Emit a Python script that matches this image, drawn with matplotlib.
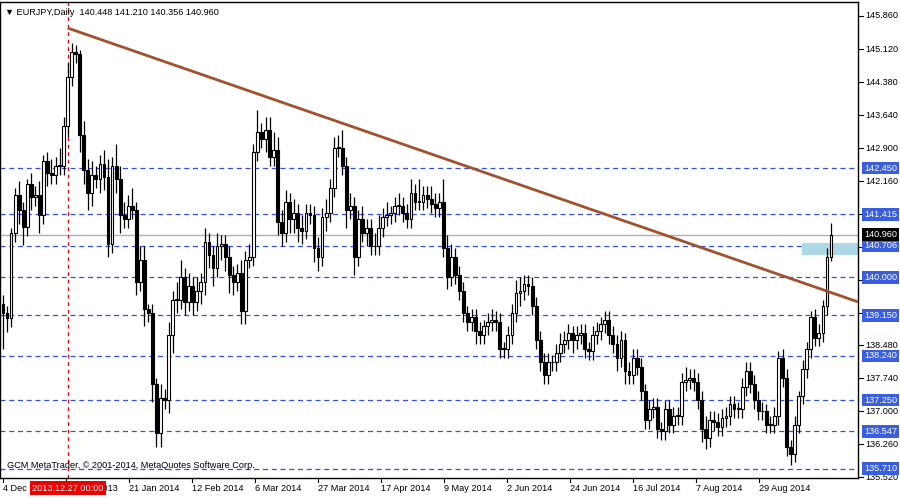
import matplotlib
matplotlib.use("Agg")
import matplotlib.pyplot as plt
import matplotlib.transforms as mtransforms
import matplotlib.patches as mpatches

plt.rcParams['font.family'] = ['Liberation Sans', 'DejaVu Sans']

# daily closes, EURJPY Dec 2013 - Sep 2014
closes = [
    139.2, 139.08, 141.0, 141.85, 141.5, 141.13, 142.1, 141.8, 141.85, 141.4,
    142.6, 142.35, 142.3, 142.5, 142.5, 143.4, 144.5, 145.05, 145.0, 143.2,
    142.4, 141.9, 142.3, 142.2, 142.55, 142.25, 140.75, 142.5, 142.2, 141.4,
    141.3, 141.6, 141.5, 139.9, 140.4, 139.3, 139.2, 137.6, 136.5, 137.3,
    137.25, 138.7, 139.5, 139.5, 140.0, 139.45, 139.8, 139.45, 139.7, 139.9,
    140.8, 140.5, 140.2, 140.7, 140.75, 140.45, 140.05, 139.9, 140.1, 139.25,
    140.4, 140.45, 142.8, 143.25, 143.1, 143.3, 142.7, 142.85, 141.25, 141.0,
    141.7, 141.3, 141.45, 141.1, 141.05, 141.45, 141.4, 140.65, 140.45, 141.35,
    141.45, 142.0, 142.9, 142.9, 142.5, 141.5, 141.6, 140.45, 141.3, 141.0,
    141.1, 140.7, 140.7, 141.1, 141.35, 141.4, 141.45, 141.6, 141.6, 141.45,
    141.3, 141.9, 141.7, 141.7, 141.85, 141.75, 141.65, 141.55, 141.7, 140.65,
    140.0, 140.45, 140.05, 139.7, 139.2, 139.0, 139.1, 138.8, 138.7, 138.9,
    139.0, 139.05, 139.0, 138.4, 138.4, 138.7, 139.2, 139.65, 139.7, 139.85,
    139.8, 139.35, 138.6, 138.1, 137.8, 138.1, 138.1, 138.3, 138.5, 138.6,
    138.75, 138.6, 138.7, 138.75, 138.4, 138.35, 138.7, 138.8, 138.95, 139.05,
    138.7, 138.5, 138.2, 138.6, 137.9, 137.8, 138.2, 138.0, 137.45, 136.8,
    137.05, 137.1, 136.6, 136.55, 137.05, 136.7, 136.9, 136.9, 137.65, 137.7,
    137.75, 137.65, 137.25, 136.6, 136.4, 136.8, 136.75, 136.65, 136.85, 136.9,
    137.15, 137.05, 137.05, 137.55, 137.9, 137.6, 137.25, 137.0, 137.0, 136.7,
    136.7, 136.9, 138.2, 137.75, 136.2, 136.05, 136.7, 137.35, 137.95, 138.4,
    139.1, 138.65, 138.75, 139.35, 140.45, 140.96,
]
first_open = 139.4

# upper / lower wicks in hundredths of a yen
upper = [
    20, 15, 10, 15, 30, 20, 10, 25, 20, 30,
    15, 20, 30, 20, 40, 20, 30, 20, 15, 10,
    30, 25, 30, 20, 20, 30, 40, 20, 50, 30,
    30, 25, 40, 20, 30, 30, 10, 20, 15, 30,
    20, 30, 20, 40, 40, 20, 30, 20, 30, 20,
    30, 20, 20, 30, 20, 20, 25, 20, 20, 30,
    20, 30, 20, 50, 20, 30, 30, 40, 30, 25,
    25, 20, 30, 20, 30, 20, 20, 20, 25, 20,
    30, 20, 25, 30, 40, 20, 30, 20, 20, 30,
    20, 20, 30, 30, 20, 30, 15, 20, 30, 20,
    20, 30, 20, 50, 20, 20, 30, 25, 20, 50,
    30, 30, 20, 20, 20, 15, 20, 20, 20, 15,
    20, 25, 20, 20, 15, 20, 20, 30, 30, 20,
    20, 20, 20, 20, 20, 20, 15, 20, 25, 20,
    20, 15, 20, 20, 20, 15, 20, 20, 15, 20,
    20, 20, 20, 20, 15, 20, 20, 20, 20, 15,
    20, 20, 20, 15, 20, 20, 20, 20, 20, 30,
    20, 20, 20, 20, 30, 20, 20, 20, 20, 20,
    20, 20, 15, 20, 20, 20, 20, 20, 20, 15,
    20, 20, 15, 20, 20, 15, 20, 10, 20, 15,
    15, 20, 20, 15, 20, 25,
]
lower = [
    80, 30, 20, 20, 30, 40, 20, 30, 20, 40,
    20, 30, 20, 20, 20, 20, 25, 20, 20, 40,
    30, 40, 30, 20, 30, 30, 30, 20, 30, 40,
    20, 20, 20, 30, 20, 40, 20, 40, 30, 30,
    20, 30, 40, 30, 20, 30, 20, 30, 20, 30,
    30, 30, 40, 20, 30, 30, 40, 30, 20, 30,
    30, 20, 20, 20, 20, 30, 20, 20, 30, 30,
    20, 30, 30, 30, 30, 20, 20, 30, 30, 20,
    30, 20, 20, 20, 20, 40, 20, 40, 20, 20,
    30, 20, 20, 20, 20, 20, 20, 20, 20, 20,
    20, 20, 20, 20, 20, 20, 20, 20, 20, 20,
    25, 20, 20, 20, 20, 20, 20, 30, 20, 20,
    20, 20, 20, 20, 20, 20, 20, 20, 30, 20,
    20, 20, 20, 20, 20, 20, 20, 20, 20, 20,
    20, 30, 20, 20, 20, 20, 20, 20, 20, 20,
    20, 20, 30, 20, 30, 20, 20, 20, 20, 20,
    20, 20, 20, 20, 20, 20, 20, 20, 20, 20,
    20, 20, 20, 30, 25, 20, 20, 20, 20, 20,
    20, 20, 20, 20, 20, 20, 20, 20, 20, 20,
    20, 20, 20, 20, 20, 25, 20, 20, 20, 20,
    20, 20, 20, 20, 20, 9,
]

level_lines = [142.450, 141.415, 140.706, 140.000, 139.150, 138.240, 137.250, 136.547, 135.710]
axis_ticks = [145.860, 145.120, 144.380, 143.640, 142.900, 142.160, 141.420, 140.680,
              139.940, 139.200, 138.480, 137.740, 137.000, 136.260, 135.520]
bid = 140.960
date_labels = ["4 Dec 2013", "23 Dec 2013", "21 Jan 2014", "12 Feb 2014", "6 Mar 2014",
               "27 Mar 2014", "17 Apr 2014", "9 May 2014", "2 Jun 2014", "24 Jun 2014",
               "16 Jul 2014", "7 Aug 2014", "29 Aug 2014"]
marker_bar = 16   # 2013.12.27
trend_start = 145.59
trend_end = 139.45
zone = (140.50, 140.77)

n = len(closes)
opens = [first_open] + closes[:-1]
highs = [max(o, c) + u / 100 for o, c, u in zip(opens, closes, upper)]
lows = [min(o, c) - l / 100 for o, c, l in zip(opens, closes, lower)]

# pixel geometry of the terminal window
W, H = 900, 500
plot_right, plot_top, plot_bottom = 858, 2, 478
px_first, px_last = 3, 831
step = (px_last - px_first) / (n - 1)
FS = 6.6

fig = plt.figure(figsize=(9, 5), dpi=100)
ax = fig.add_axes([0, (H - plot_bottom) / H, plot_right / W, (plot_bottom - plot_top) / H])
ax.set_xlim(-px_first / step, (plot_right - px_first) / step)
ax.set_ylim(145.86 - (plot_bottom - 16) / 44.6, 145.86 + (16 - plot_top) / 44.6)
xr = ax.get_xlim()[1]

for lv in level_lines:
    ax.axhline(lv, color="#3050e0", lw=0.9, ls=(0, (4, 3)), zorder=1)
ax.axhline(bid, color="#b0b0b0", lw=1, zorder=1)
ax.axvline(marker_bar, color="#dd0000", lw=0.9, ls=(0, (3, 3)), zorder=1)
ax.add_patch(mpatches.Rectangle(((802 - px_first) / step, zone[0]), xr - (802 - px_first) / step,
                                zone[1] - zone[0], facecolor="#add8e6", edgecolor="none", zorder=1))

bw = 0.7
for i in range(n):
    o, c = opens[i], closes[i]
    ax.vlines(i, lows[i], highs[i], color="black", lw=0.9, zorder=3)
    up = c >= o
    ax.add_patch(mpatches.Rectangle((i - bw / 2, min(o, c)), bw, max(abs(c - o), 0.012),
                                    facecolor="white" if up else "black", edgecolor="black",
                                    lw=0.8, zorder=4))

ax.plot([marker_bar, xr], [trend_start, trend_end], color="#a0522d", lw=2, zorder=5,
        solid_capstyle="butt")

ax.set_xticks([])
ax.set_yticks([])
for s in ax.spines.values():
    s.set_linewidth(1)

trans = mtransforms.blended_transform_factory(ax.transAxes, ax.transData)
boxed = level_lines + [bid]
for t in axis_ticks:
    ax.plot([1.0, 1.006], [t, t], transform=trans, color="black", lw=0.8, clip_on=False)
    if min(abs(t - b) for b in boxed) < 0.12:
        continue
    ax.text(1.009, t, f"{t:.3f}", transform=trans, ha="left", va="center", fontsize=FS,
            clip_on=False)
for lv in level_lines:
    ax.text(1.007, lv, f"{lv:.3f}", transform=trans, ha="left", va="center", fontsize=FS,
            color="white", clip_on=False, zorder=10,
            bbox=dict(boxstyle="square,pad=0.2", fc="#3a5ee0", ec="none"))
ax.text(1.007, bid, f"{bid:.3f}", transform=trans, ha="left", va="center", fontsize=FS,
        color="white", clip_on=False, zorder=10,
        bbox=dict(boxstyle="square,pad=0.2", fc="black", ec="none"))

# date axis: one label every 16 bars at 63 px
xtrans = ax.get_xaxis_transform()
for k, lab in enumerate(date_labels):
    xi = k * 63 / step
    ax.plot([xi, xi], [0, -0.008], transform=xtrans, color="black", lw=0.8, clip_on=False)
    ax.text(xi + 0.1, -0.012, lab, transform=xtrans, ha="left", va="top",
            fontsize=FS, clip_on=False, zorder=2)
ax.text(marker_bar, -0.012, "2013.12.27 00:00", transform=xtrans,
        ha="center", va="top", fontsize=FS, color="white", clip_on=False, zorder=10,
        bbox=dict(boxstyle="square,pad=0.25", fc="#ee0000", ec="none"))

ax.text(0.006, 0.988, "\u25bc EURJPY,Daily  140.448 141.210 140.356 140.960",
        transform=ax.transAxes, ha="left", va="top", fontsize=FS)
ax.text(0.008, 0.016, "GCM MetaTrader, \u00a9 2001-2014, MetaQuotes Software Corp.",
        transform=ax.transAxes, ha="left", va="bottom", fontsize=FS)

fig.savefig("out.png", dpi=100)
